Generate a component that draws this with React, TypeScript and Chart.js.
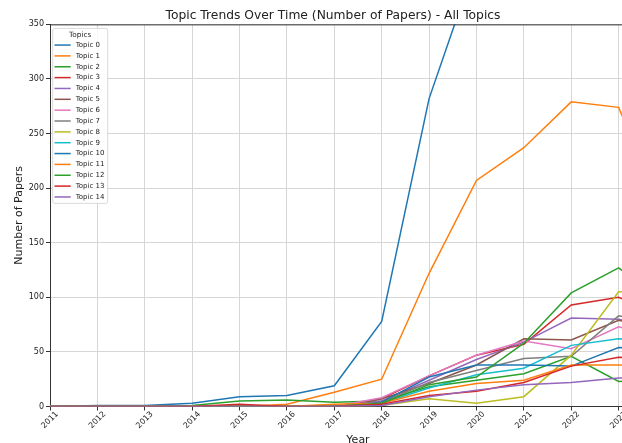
import React, { useEffect, useRef } from 'react';
import { Chart, registerables } from 'chart.js';

Chart.register(...registerables);

const years = [2011, 2012, 2013, 2014, 2015, 2016, 2017, 2018, 2019, 2020, 2021, 2022, 2023, 2024];
const yTicks = [0, 50, 100, 150, 200, 250, 300, 350];

const topic0 = [0, 1, 1, 3, 9, 10, 19, 78, 282, 408, 470, 540, 560, 380];
const topic1 = [0, 0, 0, 0, 0, 2, 13, 25, 122, 207, 237, 279, 274, 172];
const topic2 = [0, 0, 0, 1, 5, 6, 4, 5, 18, 24, 30, 46, 23, 25];
const topic3 = [0, 0, 0, 0, 1, 0, 0, 7, 28, 47, 57, 93, 100, 82];
const topic4 = [0, 0, 0, 0, 0, 0, 0, 5, 24, 43, 59, 81, 80, 70];
const topic5 = [0, 0, 0, 0, 0, 0, 0, 7, 21, 38, 62, 61, 79, 70];
const topic6 = [0, 0, 0, 0, 0, 0, 0, 8, 28, 47, 60, 53, 73, 62];
const topic7 = [0, 0, 0, 0, 0, 0, 0, 4, 22, 33, 44, 46, 83, 76];
const topic8 = [0, 0, 0, 0, 0, 0, 0, 1, 7, 3, 9, 47, 105, 105];
const topic9 = [0, 0, 0, 0, 0, 0, 0, 3, 17, 29, 35, 56, 62, 60];
const topic10 = [0, 0, 0, 0, 0, 0, 0, 4, 27, 38, 38, 37, 54, 53];
const topic11 = [0, 0, 0, 0, 0, 0, 2, 3, 14, 21, 24, 38, 38, 37];
const topic12 = [0, 0, 0, 0, 0, 0, 0, 3, 20, 27, 58, 104, 127, 95];
const topic13 = [0, 0, 0, 0, 2, 0, 0, 2, 10, 14, 22, 37, 45, 44];
const topic14 = [0, 0, 0, 0, 0, 0, 0, 1, 9, 15, 20, 22, 26, 26];

const topicNames = [
  'Topic 0', 'Topic 1', 'Topic 2', 'Topic 3', 'Topic 4', 'Topic 5', 'Topic 6', 'Topic 7',
  'Topic 8', 'Topic 9', 'Topic 10', 'Topic 11', 'Topic 12', 'Topic 13', 'Topic 14',
];
const topicSeries = [
  topic0, topic1, topic2, topic3, topic4, topic5, topic6, topic7,
  topic8, topic9, topic10, topic11, topic12, topic13, topic14,
];
const palette = [
  '#1f77b4', '#ff7f0e', '#2ca02c', '#d62728', '#9467bd', '#8c564b', '#e377c2', '#7f7f7f',
  '#bcbd22', '#17becf', '#1f77b4', '#ff7f0e', '#2ca02c', '#d62728', '#9467bd',
];

const FONT = 'DejaVu Sans';
const TEXT = '#222222';
const GRID = '#d6d6d6';
const SPINE = '#333333';
const TICK_FONT_SIZE = 8;

// x tick labels rotated 45° and centred under each tick (matplotlib style)
const centeredXLabels = {
  id: 'centeredXLabels',
  afterDraw(chart: any) {
    const { ctx, chartArea } = chart;
    const xs = chart.scales.x;
    ctx.save();
    ctx.font = `${TICK_FONT_SIZE}px "${FONT}"`;
    ctx.fillStyle = TEXT;
    ctx.textAlign = 'center';
    ctx.textBaseline = 'middle';
    const labels = chart.data.labels as string[];
    labels.forEach((lab, i) => {
      const x = xs.getPixelForValue(i);
      const L = ctx.measureText(lab).width;
      const half = (L + TICK_FONT_SIZE) / (2 * Math.SQRT2);
      ctx.save();
      ctx.translate(x, chartArea.bottom + 3.5 + half);
      ctx.rotate(-Math.PI / 4);
      ctx.fillText(lab, 0, 0);
      ctx.restore();
    });
    ctx.restore();
  },
};

const boxLegend = {
  id: 'boxLegend',
  afterDraw(chart: any) {
    const { ctx, chartArea } = chart;
    // top spine
    ctx.save();
    ctx.strokeStyle = SPINE;
    ctx.lineWidth = 1;
    ctx.beginPath();
    ctx.moveTo(chartArea.left, chartArea.top + 0.5);
    ctx.lineTo(chartArea.right, chartArea.top + 0.5);
    ctx.stroke();

    const x0 = chartArea.left + 2.7;
    const y0 = chartArea.top + 4;
    const w = 55;
    const h = 175;
    const r = 2;
    ctx.beginPath();
    ctx.moveTo(x0 + r, y0);
    ctx.lineTo(x0 + w - r, y0);
    ctx.quadraticCurveTo(x0 + w, y0, x0 + w, y0 + r);
    ctx.lineTo(x0 + w, y0 + h - r);
    ctx.quadraticCurveTo(x0 + w, y0 + h, x0 + w - r, y0 + h);
    ctx.lineTo(x0 + r, y0 + h);
    ctx.quadraticCurveTo(x0, y0 + h, x0, y0 + h - r);
    ctx.lineTo(x0, y0 + r);
    ctx.quadraticCurveTo(x0, y0, x0 + r, y0);
    ctx.closePath();
    ctx.fillStyle = 'rgba(255,255,255,0.85)';
    ctx.fill();
    ctx.strokeStyle = '#d0d0d0';
    ctx.lineWidth = 0.8;
    ctx.stroke();

    ctx.fillStyle = TEXT;
    ctx.font = `7.3px "${FONT}"`;
    ctx.textAlign = 'center';
    ctx.textBaseline = 'middle';
    ctx.fillText('Topics', x0 + w / 2, y0 + 7);

    ctx.font = `7px "${FONT}"`;
    ctx.textAlign = 'left';
    chart.data.datasets.forEach((ds: any, i: number) => {
      const yy = y0 + 16.7 + i * 10.85;
      ctx.strokeStyle = ds.borderColor;
      ctx.lineWidth = 1.5;
      ctx.beginPath();
      ctx.moveTo(x0 + 1.8, yy);
      ctx.lineTo(x0 + 18, yy);
      ctx.stroke();
      ctx.fillStyle = TEXT;
      ctx.fillText(ds.label, x0 + 23, yy);
    });
    ctx.restore();
  },
};

export default function App() {
  const ref = useRef<HTMLCanvasElement | null>(null);

  useEffect(() => {
    if (!ref.current) return;
    const chart = new Chart(ref.current, {
      type: 'line',
      data: {
        labels: years.map(String),
        datasets: topicSeries.map((vals, i) => ({
          label: topicNames[i],
          data: vals,
          borderColor: palette[i],
          backgroundColor: palette[i],
          borderWidth: 1.5,
          pointRadius: 0,
          pointHoverRadius: 0,
          tension: 0,
          fill: false,
          order: topicSeries.length - 1 - i,
          clip: 0,
        })),
      },
      options: {
        animation: false,
        responsive: false,
        events: [],
        layout: { padding: 0 },
        plugins: {
          legend: { display: false },
          tooltip: { enabled: false },
          title: {
            display: true,
            text: 'Topic Trends Over Time (Number of Papers) - All Topics',
            font: { family: FONT, size: 12.3, weight: 'normal' },
            color: TEXT,
            padding: { top: 8, bottom: 1.6 },
          },
        },
        scales: {
          x: {
            type: 'category',
            offset: false,
            grid: { color: GRID, lineWidth: 1, tickColor: SPINE, tickLength: 4 },
            border: { color: SPINE, width: 1 },
            ticks: {
              display: false,
              autoSkip: false,
            },
            title: {
              display: true,
              text: 'Year',
              font: { family: FONT, size: 11 },
              color: TEXT,
              padding: { top: 0, bottom: -3.5 },
            },
            afterFit(s: any) {
              s.height = 36.5;
              s.paddingLeft = 0;
              s.paddingRight = 0;
            },
          },
          y: {
            min: 0,
            max: 350,
            afterBuildTicks(s: any) {
              s.ticks = yTicks.map((v) => ({ value: v }));
            },
            grid: { color: GRID, lineWidth: 1, tickColor: SPINE, tickLength: 4 },
            border: { color: SPINE, width: 1 },
            ticks: {
              font: { family: FONT, size: TICK_FONT_SIZE },
              color: TEXT,
              padding: 2,
            },
            title: {
              display: true,
              text: 'Number of Papers',
              font: { family: FONT, size: 11 },
              color: TEXT,
              padding: { top: 13, bottom: 0 },
            },
            afterFit(s: any) {
              s.width = 50;
              s.paddingTop = 0;
              s.paddingBottom = 0;
            },
          },
        },
      },
      plugins: [boxLegend, centeredXLabels],
    } as any);
    return () => chart.destroy();
  }, []);

  return (
    <div
      style={{
        position: 'fixed',
        left: 0,
        top: 0,
        width: 622,
        height: 443,
        overflow: 'hidden',
        background: '#ffffff',
      }}
    >
      <canvas ref={ref} width={666} height={443} style={{ display: 'block', width: 666, height: 443 }} />
    </div>
  );
}
